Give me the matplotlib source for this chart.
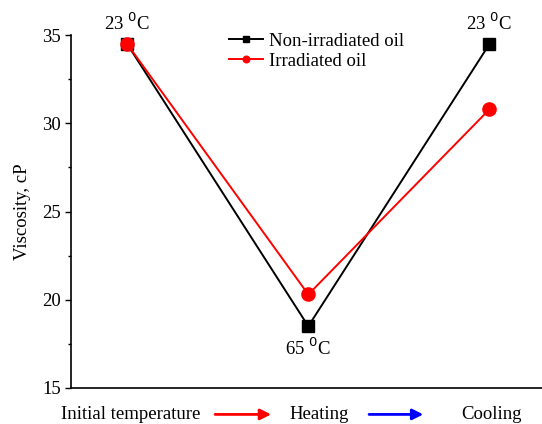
import matplotlib.pyplot as plt
from matplotlib.ticker import MultipleLocator

plt.rcParams['font.family'] = ['Liberation Serif', 'DejaVu Serif']
plt.rcParams['font.size'] = 13.5

# stages: initial temperature, heating, cooling
stages = [1, 2, 3]
non_irradiated = [34.5, 18.5, 34.5]
irradiated = [34.5, 20.3, 30.8]
temp_labels = ['23 $^0$C', '65 $^0$C', '23 $^0$C']
stage_names = ['Initial temperature', 'Heating', 'Cooling']

fig = plt.figure(figsize=(5.42, 4.24), dpi=100)
ax = fig.add_axes([0.131, 0.085, 0.869, 0.832])

ax.plot(stages, non_irradiated, color='black', lw=1.4, marker='s', ms=8.5,
        label='Non-irradiated oil', zorder=2)
ax.plot(stages, irradiated, color='red', lw=1.4, marker='o', ms=9.5,
        label='Irradiated oil', zorder=3)

# temperature labels
ax.annotate(temp_labels[0], (stages[0], non_irradiated[0]), xytext=(0, 7),
            textcoords='offset points', ha='center', va='bottom')
ax.annotate(temp_labels[1], (stages[1], non_irradiated[1]), xytext=(0, -8),
            textcoords='offset points', ha='center', va='top')
ax.annotate(temp_labels[2], (stages[2], non_irradiated[2]), xytext=(0, 7),
            textcoords='offset points', ha='center', va='bottom')

ax.set_xlim(0.69, 3.29)
ax.set_ylim(15, 35)
ax.yaxis.set_major_locator(MultipleLocator(5))
ax.yaxis.set_minor_locator(MultipleLocator(2.5))
ax.tick_params(axis='y', direction='out', length=4, width=1, pad=3)
ax.tick_params(axis='y', which='minor', direction='out', length=2, width=1)
ax.set_xticks([])
ax.spines['top'].set_visible(False)
ax.spines['right'].set_visible(False)
ax.spines['left'].set_linewidth(1.2)
ax.spines['bottom'].set_linewidth(1.2)
ax.set_ylabel('Viscosity, cP', labelpad=8)

ax.legend(loc='upper left', bbox_to_anchor=(0.3, 1.055), frameon=False,
          markerscale=0.5, handlelength=1.8, handletextpad=0.3, labelspacing=0.15)

# stage names under the axis, with arrows between them
trans = ax.get_xaxis_transform()
ax.text(1.02, -0.075, stage_names[0], transform=trans, ha='center', va='center')
ax.text(2.06, -0.075, stage_names[1], transform=trans, ha='center', va='center')
ax.text(3.01, -0.075, stage_names[2], transform=trans, ha='center', va='center')
ax.annotate('', xy=(1.81, -0.075), xytext=(1.47, -0.075), xycoords=trans,
            arrowprops=dict(arrowstyle='-|>', color='red', lw=2, mutation_scale=16))
ax.annotate('', xy=(2.65, -0.075), xytext=(2.32, -0.075), xycoords=trans,
            arrowprops=dict(arrowstyle='-|>', color='blue', lw=2, mutation_scale=16))

fig.savefig('out.png', dpi=100)
